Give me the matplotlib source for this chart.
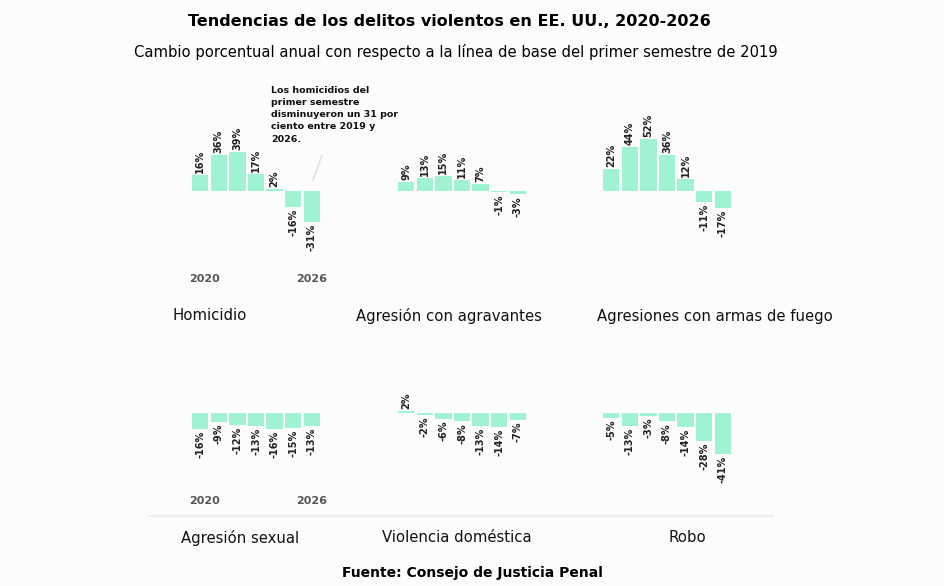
import matplotlib.pyplot as plt
import numpy as np

years = [2020, 2021, 2022, 2023, 2024, 2025, 2026]
titles = ["Homicidio", "Agresión con agravantes", "Agresiones con armas de fuego",
          "Agresión sexual", "Violencia doméstica", "Robo"]
homicidio = [16, 36, 39, 17, 2, -16, -31]
agravantes = [9, 13, 15, 11, 7, -1, -3]
armas_fuego = [22, 44, 52, 36, 12, -11, -17]
sexual = [-16, -9, -12, -13, -16, -15, -13]
domestica = [2, -2, -6, -8, -13, -14, -7]
robo = [-5, -13, -3, -8, -14, -28, -41]
series = [homicidio, agravantes, armas_fuego, sexual, domestica, robo]

W, H = 944, 586
BAR = "#9ff3d3"
fig = plt.figure(figsize=(W / 100, H / 100), dpi=100)
fig.patch.set_facecolor("#fcfcfc")

def px(x0, y0, w, h):
    # pixel box (top-left origin) -> figure fraction
    return [x0 / W, 1 - (y0 + h) / H, w / W, h / H]

col_x = [191, 397, 602]
title_x = [[210, 449, 715], [240, 457, 687]]
rows = [(100, 190, 91, -99, 316), (330, 180, 83, -97, 538)]

for i, vals in enumerate(series):
    r, c = divmod(i, 3)
    top, hgt, ymax, ymin, ty = rows[r]
    ax = fig.add_axes(px(col_x[c], top, 130, hgt))
    ax.set_facecolor("none")
    x = np.arange(len(vals))
    ax.bar(x, vals, width=0.88, color=BAR)
    for xi, v in zip(x, vals):
        ax.text(xi, v + (2 if v >= 0 else -2), f"{v}%", rotation=90,
                ha="center", va="bottom" if v >= 0 else "top",
                fontsize=7, fontweight="bold", color="#222222")
    ax.set_xlim(-0.5, 6.5)
    ax.set_ylim(ymin, ymax)
    ax.axis("off")
    if c == 0:
        ax.text(0.2, -88, str(years[0]), ha="center", va="center",
                fontsize=8, fontweight="bold", color="#555555")
        ax.text(6, -88, str(years[-1]), ha="center", va="center",
                fontsize=8, fontweight="bold", color="#555555")
    fig.text(title_x[r][c] / W, 1 - ty / H, titles[i], ha="center", va="center",
             fontsize=10.7, color="#111111")

fig.text(449 / W, 1 - 21 / H, "Tendencias de los delitos violentos en EE. UU., 2020-2026",
         ha="center", va="center", fontsize=11.5, fontweight="bold")
fig.text(456 / W, 1 - 52 / H,
         "Cambio porcentual anual con respecto a la línea de base del primer semestre de 2019",
         ha="center", va="center", fontsize=10.6)
fig.text(472 / W, 1 - 573 / H, "Fuente: Consejo de Justicia Penal",
         ha="center", va="center", fontsize=10, fontweight="bold")

fig.text(271 / W, 1 - 86 / H,
         "Los homicidios del\nprimer semestre\ndisminuyeron un 31 por\nciento entre 2019 y\n2026.",
         ha="left", va="top", fontsize=6.8, fontweight="bold", linespacing=1.45, color="#111111")
fig.add_artist(plt.Line2D([322 / W, 313 / W], [1 - 155 / H, 1 - 180 / H],
                          color="#dddddd", lw=1))
fig.add_artist(plt.Line2D([150 / W, 772 / W], [1 - 516 / H, 1 - 516 / H],
                          color="#eeeeee", lw=1.5))

fig.savefig("out.png", dpi=100, facecolor=fig.get_facecolor())
